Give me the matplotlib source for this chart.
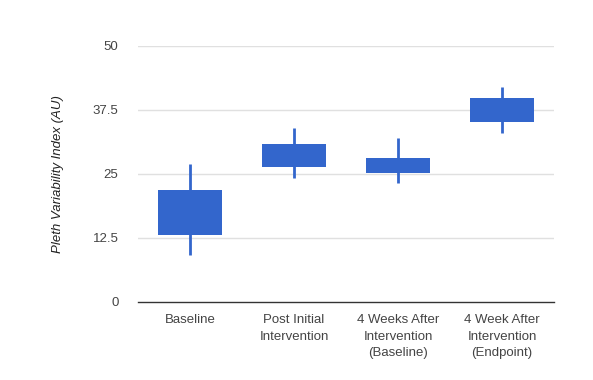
import matplotlib
matplotlib.use("Agg")
import matplotlib.pyplot as plt

categories = ["Baseline", "Post Initial\nIntervention", "4 Weeks After\nIntervention\n(Baseline)",
              "4 Week After\nIntervention\n(Endpoint)"]
low = [9.1, 24.1, 23.1, 33.0]
box_bottom = [13.0, 26.2, 25.05, 35.1]
box_top = [21.8, 30.8, 28.0, 39.7]
high = [26.9, 33.9, 31.9, 42.0]
y_ticks = [0, 12.5, 25, 37.5, 50]
y_tick_labels = ["0", "12.5", "25", "37.5", "50"]

plt.rcParams["font.family"] = ["Liberation Sans", "DejaVu Sans"]

color = "#3366cc"
fig = plt.figure(figsize=(5.93, 3.8), dpi=100)
ax = fig.add_axes([138 / 593, 78.5 / 380, 416 / 593, 255.8 / 380])

x = list(range(len(categories)))
ax.vlines(x, low, high, color=color, linewidth=2, zorder=2)
ax.bar(x, [t - b for t, b in zip(box_top, box_bottom)], bottom=box_bottom, width=0.62,
       color=color, zorder=3)

ax.set_xlim(-0.5, len(categories) - 0.5)
ax.set_ylim(0, 50)
ax.set_yticks(y_ticks)
ax.set_yticklabels(y_tick_labels)
ax.set_xticks(x)
ax.set_xticklabels(categories, linespacing=1.5)

for t in y_ticks[1:]:
    ax.axhline(t, color="#e0e0e0", linewidth=1, zorder=1)
ax.axhline(0, color="#333333", linewidth=1, zorder=4, clip_on=False)

for s in ax.spines.values():
    s.set_visible(False)
ax.tick_params(axis="both", length=0, labelsize=9.5, labelcolor="#444444")
ax.tick_params(axis="y", pad=14)
ax.tick_params(axis="x", pad=9)

ax.set_ylabel("Pleth Variability Index (AU)", fontsize=9.5, style="italic", color="#222222",
              labelpad=21)

fig.savefig("out.png", dpi=100)
